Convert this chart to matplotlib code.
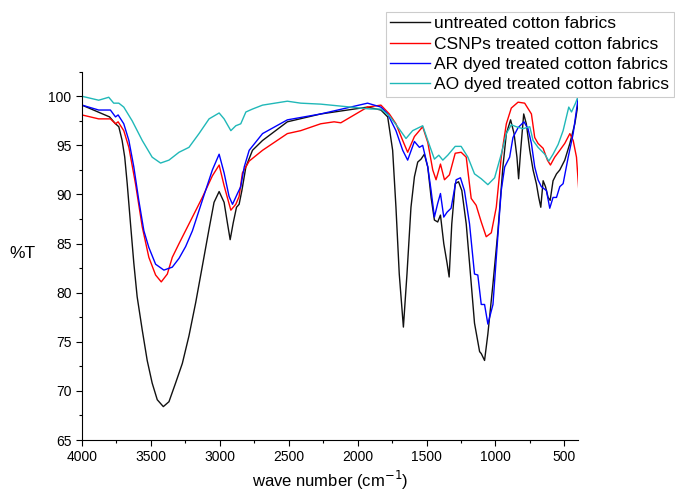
import numpy as np
import matplotlib.pyplot as plt
from matplotlib.ticker import MultipleLocator

plt.rcParams['font.family'] = ['Liberation Sans', 'DejaVu Sans']

# untreated cotton fabrics
wn_black = [4000, 3900, 3800, 3757, 3733, 3709, 3690, 3672, 3648, 3624, 3600, 3563, 3527, 3491,
            3454, 3410, 3369, 3321, 3272, 3224, 3175, 3127, 3078, 3042, 3005, 2969, 2945, 2925,
            2903, 2879, 2860, 2840, 2811, 2763, 2690, 2510, 2268, 1928, 1831, 1782, 1746, 1722,
            1698, 1668, 1642, 1613, 1588, 1564, 1540, 1516, 1491, 1467, 1443, 1419, 1399, 1375,
            1351, 1336, 1317, 1292, 1268, 1244, 1212, 1188, 1152, 1115, 1103, 1079, 1055, 1018,
            982, 946, 921, 890, 865, 844, 832, 817, 795, 776, 751, 727, 703, 686, 671, 654, 637,
            618, 603, 582, 557, 533, 497, 460, 424, 400]
t_black = [99.1, 98.5, 97.9, 97.2, 96.9, 95.5, 93.8, 91.1, 87.0, 83.0, 79.6, 76.2, 73.1, 70.8,
           69.1, 68.4, 68.9, 70.8, 72.8, 75.6, 79.0, 82.7, 86.5, 89.2, 90.3, 89.2, 87.1, 85.4,
           87.1, 88.7, 89.0, 90.4, 92.8, 94.5, 95.5, 97.4, 98.2, 98.9, 98.6, 97.9, 94.5, 88.7,
           81.9, 76.5, 81.9, 88.7, 91.8, 93.3, 93.6, 94.1, 92.8, 89.7, 87.4, 87.2, 87.9, 85.0,
           83.0, 81.6, 87.0, 91.1, 91.3, 90.4, 87.0, 83.0, 76.9, 74.0, 73.8, 73.1, 75.8, 80.9,
           86.3, 92.8, 96.2, 97.6, 96.2, 93.8, 91.6, 94.5, 98.2, 97.2, 94.5, 92.5, 91.1, 89.7, 88.7,
           91.4, 90.8, 89.7, 89.4, 91.4, 92.1, 92.5, 93.5, 95.2, 97.2, 99.3]

# CSNPs treated cotton fabrics
wn_red = [4000, 3879, 3794, 3757, 3738, 3697, 3660, 3612, 3563, 3515, 3466, 3425, 3381, 3345,
          3296, 3224, 3127, 3054, 3005, 2969, 2920, 2884, 2860, 2836, 2787, 2690, 2510, 2413,
          2268, 2171, 2122, 2025, 1928, 1831, 1770, 1722, 1673, 1637, 1588, 1528, 1491, 1455,
          1431, 1399, 1370, 1334, 1292, 1249, 1212, 1176, 1140, 1103, 1067, 1030, 994, 958, 921,
          885, 836, 788, 739, 715, 691, 654, 623, 601, 570, 533, 497, 460, 436, 412, 395]
t_red = [98.1, 97.7, 97.7, 97.2, 97.4, 96.5, 94.8, 91.1, 86.7, 83.6, 81.8, 81.1, 81.9, 83.6,
         85.0, 87.0, 89.7, 91.9, 93.0, 90.9, 88.4, 89.0, 89.8, 92.2, 93.4, 94.5, 96.2, 96.5,
         97.2, 97.4, 97.3, 98.1, 98.9, 99.1, 98.2, 97.2, 95.5, 94.3, 95.9, 96.9, 95.3, 92.5,
         91.5, 93.1, 91.5, 92.0, 94.2, 94.3, 93.8, 89.6, 88.9, 87.2, 85.7, 86.1, 88.7, 93.8, 97.2,
         98.8, 99.4, 99.3, 98.2, 95.8, 95.2, 94.7, 93.5, 93.0, 93.8, 94.5, 95.2, 96.2, 95.5, 93.8, 90.4]

# AR dyed treated cotton fabrics
wn_blue = [4000, 3879, 3794, 3757, 3738, 3697, 3660, 3624, 3588, 3551, 3515, 3466, 3406, 3345,
           3296, 3248, 3199, 3127, 3054, 3005, 2969, 2933, 2908, 2872, 2848, 2823, 2787, 2690,
           2510, 2268, 1928, 1831, 1782, 1722, 1673, 1637, 1588, 1552, 1528, 1491, 1467, 1443,
           1419, 1399, 1375, 1351, 1322, 1285, 1254, 1225, 1188, 1152, 1128, 1103, 1079, 1055,
           1018, 982, 958, 933, 897, 873, 836, 793, 764, 739, 715, 691, 667, 630, 606, 582, 557,
           533, 509, 472, 436, 400]
t_blue = [99.1, 98.6, 98.6, 97.9, 98.1, 97.2, 95.5, 92.8, 89.4, 86.3, 84.6, 82.9, 82.3, 82.6,
          83.5, 84.7, 86.3, 89.4, 92.5, 94.1, 92.2, 89.8, 89.0, 90.1, 90.8, 92.8, 94.5, 96.2,
          97.6, 98.2, 99.3, 98.9, 98.2, 96.5, 94.5, 93.5, 95.4, 94.8, 95.0, 92.8, 90.4, 87.7,
          89.1, 90.1, 87.7, 88.2, 88.6, 91.5, 91.7, 90.4, 87.0, 81.9, 81.8, 78.8, 78.8, 76.8,
          78.8, 85.9, 90.4, 92.8, 93.8, 95.8, 96.8, 97.4, 96.7, 95.2, 92.8, 91.5, 90.8, 90.4, 88.6,
          89.7, 89.7, 90.8, 91.1, 93.8, 96.2, 99.8]

# AO dyed treated cotton fabrics
wn_cyan = [4000, 3879, 3806, 3770, 3733, 3697, 3636, 3563, 3491, 3430, 3369, 3296, 3224, 3151,
           3078, 3005, 2969, 2920, 2884, 2848, 2811, 2763, 2690, 2510, 2413, 2268, 2050, 1904,
           1831, 1770, 1710, 1649, 1601, 1528, 1491, 1443, 1411, 1382, 1346, 1292, 1249, 1200,
           1152, 1103, 1055, 1006, 958, 921, 885, 849, 800, 751, 727, 691, 642, 613, 582, 545,
           509, 468, 448, 419, 400]
t_cyan = [100.0, 99.6, 99.9, 99.3, 99.3, 98.9, 97.5, 95.5, 93.8, 93.2, 93.5, 94.3, 94.8, 96.2,
          97.7, 98.3, 97.7, 96.5, 97.0, 97.2, 98.4, 98.7, 99.1, 99.5, 99.3, 99.2, 98.9, 98.7,
          98.7, 98.0, 96.9, 95.7, 96.5, 97.0, 95.5, 93.6, 94.0, 93.5, 94.0, 94.9, 94.9, 93.8,
          92.1, 91.6, 91.0, 91.7, 94.1, 96.2, 97.1, 96.9, 96.7, 96.9, 95.5, 94.8, 94.1, 93.4, 94.1, 95.1,
          96.5, 98.9, 98.4, 99.3, 100.0]

labels = ['untreated cotton fabrics', 'CSNPs treated cotton fabrics',
          'AR dyed treated cotton fabrics', 'AO dyed treated cotton fabrics']

fig = plt.figure(figsize=(6.75, 4.93), dpi=100)
ax = fig.add_axes([0.1215, 0.1075, 0.735, 0.747])

ax.plot(wn_black, t_black, color='#111111', lw=1.0, label=labels[0])
ax.plot(wn_red, t_red, color='#ff0000', lw=1.0, label=labels[1])
ax.plot(wn_blue, t_blue, color='#0000ff', lw=1.0, label=labels[2])
ax.plot(wn_cyan, t_cyan, color='#20b8b8', lw=1.0, label=labels[3])

ax.set_xlim(4000, 400)
ax.set_ylim(65, 102.5)
ax.xaxis.set_major_locator(MultipleLocator(500))
ax.xaxis.set_minor_locator(MultipleLocator(250))
ax.yaxis.set_major_locator(MultipleLocator(5))
ax.yaxis.set_minor_locator(MultipleLocator(2.5))
ax.tick_params(which='major', direction='out', length=4, width=0.8, labelsize=10)
ax.tick_params(which='minor', direction='out', length=2.5, width=0.8)
ax.spines['top'].set_visible(False)
ax.spines['right'].set_visible(False)

ax.set_xlabel('wave number (cm$^{-1}$)', fontsize=12, labelpad=3)
fig.text(0.014, 0.485, '%T', fontsize=12.5, va='center', ha='left')

leg = fig.legend(loc='upper right', bbox_to_anchor=(0.998, 0.976), fontsize=12.5,
                 handlelength=2.3, handletextpad=0.25, borderpad=0.25, labelspacing=0.3,
                 fancybox=False, framealpha=1, edgecolor='#cccccc', borderaxespad=0)
leg.get_frame().set_linewidth(0.8)

plt.savefig('out.png', dpi=100)
